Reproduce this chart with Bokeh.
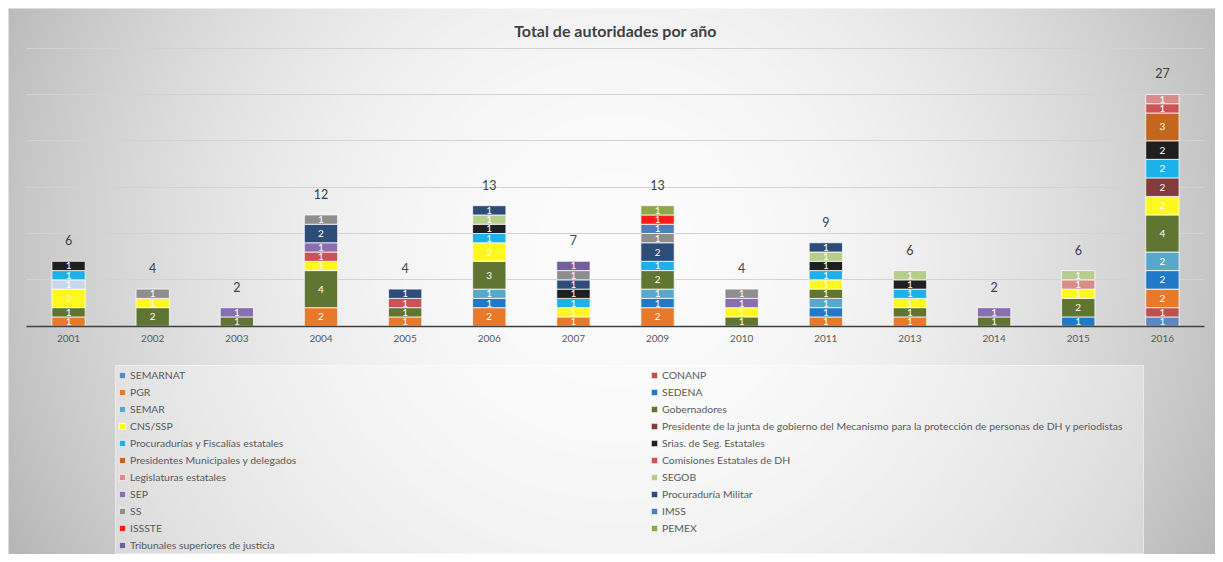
import numpy as np
from bokeh.plotting import figure
from bokeh.models import (ColumnDataSource, Range1d, LinearAxis, FixedTicker, Grid,
                          Legend, LegendItem, Label, BoxAnnotation)
from bokeh.core.properties import value
from bokeh.embed import file_html
from bokeh.resources import INLINE

# ---------------- data ----------------
title = "Total de autoridades por año"
years = ["2001", "2002", "2003", "2004", "2005", "2006", "2007",
         "2009", "2010", "2011", "2013", "2014", "2015", "2016"]
totals = [6, 4, 2, 12, 4, 13, 7, 13, 4, 9, 6, 2, 6, 27]

series_names = [
    "SEMARNAT", "CONANP", "PGR", "SEDENA", "SEMAR", "Gobernadores", "CNS/SSP",
    "Presidente de la junta de gobierno del Mecanismo para la protección de personas de DH y periodistas",
    "Procuradurías y Fiscalías estatales", "Srias. de Seg. Estatales",
    "Presidentes Municipales y delegados", "Comisiones Estatales de DH",
    "Legislaturas estatales", "SEGOB", "SEP", "Procuraduría Militar", "SS",
    "IMSS", "ISSSTE", "PEMEX", "Tribunales superiores de justicia",
]
#                 01 02 03 04 05 06 07 09 10 11 13 14 15 16
semarnat       = [0, 0, 0, 0, 0, 0, 0, 0, 0, 0, 0, 0, 0, 1]
conanp         = [0, 0, 0, 0, 0, 0, 0, 0, 0, 0, 0, 0, 0, 1]
pgr            = [1, 0, 0, 2, 1, 2, 1, 2, 0, 1, 1, 0, 0, 2]
sedena         = [0, 0, 0, 0, 0, 1, 0, 1, 0, 1, 0, 0, 1, 2]
semar          = [0, 0, 0, 0, 0, 1, 0, 1, 0, 1, 0, 0, 0, 2]
gobernadores   = [1, 2, 1, 4, 1, 3, 0, 2, 1, 1, 1, 1, 2, 4]
cns_ssp        = [2, 1, 0, 1, 0, 2, 1, 0, 1, 1, 1, 0, 1, 2]
pres_junta     = [1, 0, 0, 0, 0, 0, 0, 0, 0, 0, 0, 0, 0, 2]
procuradurias  = [1, 0, 0, 0, 0, 1, 1, 1, 0, 1, 1, 0, 0, 2]
srias          = [1, 0, 0, 0, 0, 1, 1, 0, 0, 1, 1, 0, 0, 2]
pres_munic     = [0, 0, 0, 0, 0, 0, 0, 0, 0, 0, 0, 0, 0, 3]
comisiones     = [0, 0, 0, 1, 1, 0, 0, 0, 0, 0, 0, 0, 0, 1]
legislaturas   = [0, 0, 0, 0, 0, 0, 0, 0, 0, 0, 0, 0, 1, 1]
segob          = [0, 0, 0, 0, 0, 1, 0, 0, 0, 1, 1, 0, 1, 0]
sep            = [0, 0, 1, 1, 0, 0, 0, 0, 1, 0, 0, 1, 0, 0]
proc_militar   = [0, 0, 0, 2, 1, 1, 1, 2, 0, 1, 0, 0, 0, 0]
ss             = [0, 1, 0, 1, 0, 0, 1, 1, 1, 0, 0, 0, 0, 0]
imss           = [0, 0, 0, 0, 0, 0, 0, 1, 0, 0, 0, 0, 0, 0]
issste         = [0, 0, 0, 0, 0, 0, 0, 1, 0, 0, 0, 0, 0, 0]
pemex          = [0, 0, 0, 0, 0, 0, 0, 1, 0, 0, 0, 0, 0, 0]
tribunales     = [0, 0, 0, 0, 0, 0, 1, 0, 0, 0, 0, 0, 0, 0]

series_values = [semarnat, conanp, pgr, sedena, semar, gobernadores, cns_ssp,
                 pres_junta, procuradurias, srias, pres_munic, comisiones,
                 legislaturas, segob, sep, proc_militar, ss, imss, issste,
                 pemex, tribunales]
grid_ticks = [5, 10, 15, 20, 25, 30]

# ---------------- styles ----------------
series_colors = [
    "#5B87C4", "#C0504D", "#E8792A", "#2079C7", "#57A9CC", "#5F7531", "#FFF71F",
    "#833B3B", "#1CB1E8", "#1F1F1F", "#C3671F", "#CB5355", "#D98C8C", "#B6CD8E",
    "#8A6FB0", "#2D4C77", "#8E8E8E", "#4F7EB9", "#FF1A1A", "#8DA84C", "#745E9C",
]
# one segment is drawn in a pale tint in the original (series index, year index)
point_color_overrides = {(7, 0): "#C9D7EA"}
FONT = "Lato"

W, H = 1215, 554
chart_left, chart_top = 8, 8           # start of the grey chart area (px)
cat_left_px, cat_w_px = 26.0, 84.14    # category band start / width (px)
base_px, unit_px = 325.7, 9.27         # y=0 position and px per unit
bar_width = 0.396

x_start = -0.5 - cat_left_px / cat_w_px
x_end = x_start + W / cat_w_px
y_end = base_px / unit_px
y_start = y_end - H / unit_px


def px_x(cx):
    return x_start + cx / cat_w_px


def px_y(cy):
    return y_end - cy / unit_px


n = len(years)
p = figure(width=W, height=H,
           x_range=Range1d(x_start, x_end), y_range=Range1d(y_start, y_end),
           x_axis_type=None, y_axis_type=None,
           output_backend="svg", toolbar_location=None, min_border=0,
           outline_line_color=None, background_fill_color="#FFFFFF",
           border_fill_color="#FFFFFF")

# radial gray gradient background of the chart area
gw, gh = W - chart_left, H - chart_top
nx, ny = gw // 2, gh // 2
gx = chart_left + (np.arange(nx) + 0.5) * gw / nx
gy = H - (np.arange(ny) + 0.5) * gh / ny
GX, GY = np.meshgrid(gx, gy)
r = np.sqrt(((GX - 615) / 620.0) ** 2 + ((GY - 250) / 600.0) ** 2)
shade = (252 - 58 * np.clip(r, 0, 1.1) ** 2).clip(0, 255).astype(np.uint8)
img = np.empty((ny, nx), dtype=np.uint32)
view = img.view(dtype=np.uint8).reshape((ny, nx, 4))
view[..., 0] = shade
view[..., 1] = shade
view[..., 2] = shade
view[..., 3] = 255
bg = p.image_rgba(image=[img], x=px_x(chart_left), y=y_start,
                  dw=x_end - px_x(chart_left), dh=px_y(chart_top) - y_start)
bg.level = "image"

# grid
grid = Grid(dimension=1, ticker=FixedTicker(ticks=grid_ticks),
            grid_line_color="#D2D2D2", grid_line_width=1)
try:
    grid.cross_bounds = (-0.5, n - 0.5)
except Exception:
    pass
p.add_layout(grid)

# legend background box
p.add_layout(BoxAnnotation(left=px_x(115), right=px_x(1143), top=px_y(365), bottom=px_y(553),
                           fill_color="white", fill_alpha=0.33, line_color="white",
                           line_alpha=0.5, line_width=1, level="underlay"))

# stacked bars
cum = np.zeros(n)
legend_items = []
seg = dict(x=[], y=[], text=[])
for si, (name, vals, color) in enumerate(zip(series_names, series_values, series_colors)):
    vals = np.array(vals, dtype=float)
    bottoms = cum.copy()
    cum = cum + vals
    keep = [i for i in range(n) if vals[i] > 0]
    cols = [point_color_overrides.get((si, i), color) for i in keep]
    src = ColumnDataSource(dict(x=keep, bottom=[bottoms[i] for i in keep],
                                top=[cum[i] for i in keep], color=cols))
    rr = p.vbar(x="x", bottom="bottom", top="top", width=bar_width, source=src,
                fill_color="color", line_color="white", line_width=1, line_alpha=0.75)
    idx = next((k for k, c in enumerate(cols) if c == color), 0)
    legend_items.append(LegendItem(label=name, renderers=[rr], index=idx))
    for i in keep:
        seg["x"].append(i)
        seg["y"].append((bottoms[i] + cum[i]) / 2)
        seg["text"].append(str(int(vals[i])))

p.text(x="x", y="y", text="text", source=ColumnDataSource(seg),
       text_color="white", text_font=value(FONT), text_font_size="10px",
       text_align="center", text_baseline="middle")

# totals above the stacks
p.text(x=list(range(n)), y=list(cum), text=[str(t) for t in totals],
       y_offset=-21, text_color="#404040", text_font=value(FONT),
       text_font_size="12.5px", text_align="center", text_baseline="middle")

# x axis at y = 0
xaxis = LinearAxis(ticker=FixedTicker(ticks=list(range(n))),
                   major_label_overrides={i: y for i, y in enumerate(years)},
                   fixed_location=0, bounds=(-0.5, n - 0.5),
                   axis_line_color="#404040", axis_line_width=1.5,
                   major_tick_in=0, major_tick_out=0,
                   major_tick_line_color=None, minor_tick_line_color=None,
                   major_label_text_font=FONT, major_label_text_font_size="10px",
                   major_label_text_color="#595959", major_label_standoff=9)
p.add_layout(xaxis, "below")

# title
p.add_layout(Label(x=px_x(615), y=px_y(30), text=title, text_align="center",
                   text_baseline="middle", text_font=FONT, text_font_style="bold",
                   text_font_size="16px", text_color="#404040"))

# legends (two columns, row-wise order like the original)
legend_kw = dict(orientation="vertical", padding=0, spacing=0, margin=0,
                 glyph_width=8, glyph_height=8, label_height=17, label_standoff=4,
                 label_text_font=FONT, label_text_font_size="10.4px",
                 label_text_color="#595959", label_text_baseline="middle",
                 background_fill_alpha=0, border_line_alpha=0)
left_items = legend_items[0::2]
right_items = legend_items[1::2]
leg_top = 366.5
p.add_layout(Legend(items=left_items, location=(118, H - (leg_top + 17 * len(left_items))), **legend_kw))
p.add_layout(Legend(items=right_items, location=(650, H - (leg_top + 17 * len(right_items))), **legend_kw))

open("out.html", "w").write(file_html(p, INLINE))
